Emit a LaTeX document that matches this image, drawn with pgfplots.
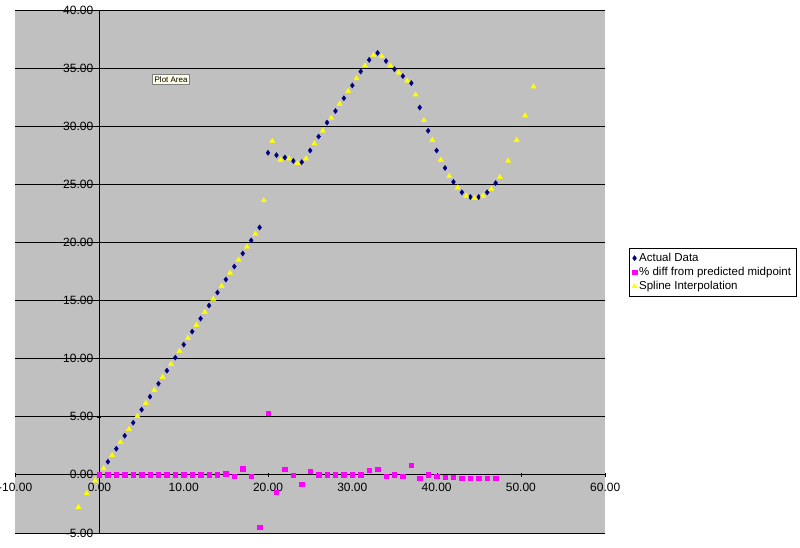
\documentclass[border=0pt]{standalone}
\usepackage{pgfplots}
\pgfplotsset{compat=1.18}
\usepackage{fontspec}
\setmainfont{Liberation Sans}
\definecolor{bg}{HTML}{C0C0C0}
\definecolor{navy}{HTML}{000080}
\definecolor{mag}{HTML}{FF00FF}
\definecolor{yel}{HTML}{FFFF00}
\begin{document}
\fontsize{12}{14}\selectfont
\begin{tikzpicture}[x=1pt,y=1pt]
\path[use as bounding box] (0,0) rectangle (800,548);
\begin{axis}[at={(18,13)},anchor=south west,scale only axis,width=590pt,height=523pt,
 xmin=-10,xmax=60,ymin=-5,ymax=40,axis lines=middle,
 hide obscured x ticks=false,hide obscured y ticks=false,
 axis background/.style={fill=bg},
 xtick={-10,0,...,60},ytick={-5,0,...,40},
 ymajorgrids, grid style={black,line width=0.6pt},
 tick style={black},major tick length=4pt,
 axis line style={black,-,line width=0.6pt},
 /pgf/number format/.cd,fixed,fixed zerofill,precision=2,assume math mode=true,
 /pgfplots/.cd,
 tick label style={font=\fontsize{12}{14}\selectfont},
 xticklabel style={yshift=-2pt},
 legend style={at={(1.04,0.545)},anchor=north west,draw=black,fill=white,
   font=\fontsize{11.5}{13}\selectfont,row sep=0pt,inner sep=3pt},
 legend cell align=left, clip=false]
\addplot[only marks,mark=diamond*,mark size=2.6pt,color=navy] coordinates {
(1,1.12)(2,2.24)(3,3.36)(4,4.48)(5,5.6)(6,6.72)(7,7.84)(8,8.96)(9,10.08)(10,11.2)
(11,12.32)(12,13.44)(13,14.56)(14,15.68)(15,16.8)(16,17.92)(17,19.04)(18,20.16)(19,21.28)
(20,27.7)(21,27.5)(22,27.3)(23,27.0)(24,26.9)(25,27.9)(26,29.1)(27,30.3)(28,31.3)(29,32.4)
(30,33.5)(31,34.7)(32,35.7)(33,36.3)(34,35.6)(35,34.9)(36,34.3)(37,33.7)(38,31.6)(39,29.6)
(40,27.9)(41,26.4)(42,25.2)(43,24.3)(44,23.9)(45,23.9)(46,24.3)(47,25.1)};
\addlegendentry{Actual Data}
\addplot[only marks,mark=square*,mark size=2.2pt,color=mag] coordinates {
(0,0)(1,0)(2,0)(3,0)(4,0)(5,0)(6,0)(7,0)(8,0)(9,0)(10,0)(11,0)(12,0)(13,0)(14,0)
(15,0.1)(16,-0.1)(17,0.54)(18,-0.1)(19,-4.5)(20,5.3)(21,-1.5)(22,0.5)(23,-0.05)(24,-0.8)
(25,0.3)(26,0)(27,0)(28,0)(29,0)(30,0)(31,0)(32,0.4)(33,0.5)(34,-0.1)(35,0)(36,-0.1)
(37,0.8)(38,-0.3)(39,0)(40,-0.1)(41,-0.2)(42,-0.2)(43,-0.3)(44,-0.3)(45,-0.3)(46,-0.3)(47,-0.3)};
\addlegendentry{\% diff from predicted midpoint}
\addplot[only marks,mark=triangle*,mark size=3pt,color=yel] coordinates {
(-2.5,-2.8)(-1.5,-1.6)(-0.5,-0.5)(0.5,0.54)(1.5,1.68)(2.5,2.8)(3.5,3.92)(4.5,5.04)(5.5,6.16)
(6.5,7.28)(7.5,8.4)(8.5,9.52)(9.5,10.64)(10.5,11.76)(11.5,12.88)(12.5,14.0)(13.5,15.12)
(14.5,16.24)(15.5,17.36)(16.5,18.48)(17.5,19.6)(18.5,20.72)(19.5,23.6)(20.5,28.7)(21.5,27.1)
(22.5,27.2)(23.5,26.8)(24.5,27.2)(25.5,28.5)(26.5,29.6)(27.5,30.7)(28.5,31.9)(29.5,33.0)
(30.5,34.1)(31.5,35.2)(32.5,36.1)(33.5,36.0)(34.5,35.2)(35.5,34.6)(36.5,33.9)(37.5,32.7)
(38.5,30.5)(39.5,28.8)(40.5,27.1)(41.5,25.7)(42.5,24.7)(43.5,24.0)(44.5,23.8)(45.5,24.0)
(46.5,24.6)(47.5,25.6)(48.5,27.0)(49.5,28.8)(50.5,30.9)(51.5,33.4)};
\addlegendentry{Spline Interpolation}
\node[fill=yellow!10,draw=gray,inner sep=2pt,font=\fontsize{8}{9}\selectfont] at (axis cs:8.5,34.0) {Plot Area};
\end{axis}
\end{tikzpicture}
\end{document}
